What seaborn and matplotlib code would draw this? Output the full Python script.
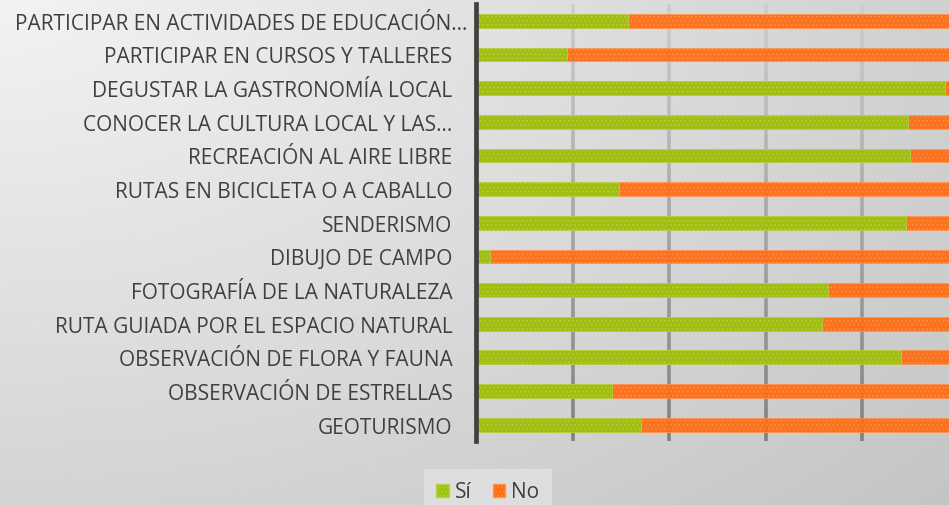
import numpy as np
import pandas as pd
import matplotlib
matplotlib.use("Agg")
import matplotlib.pyplot as plt
import matplotlib.transforms as mtransforms
from matplotlib.patches import Patch
import seaborn as sns

categories = [
    "PARTICIPAR EN ACTIVIDADES DE EDUCACIÓN…",
    "PARTICIPAR EN CURSOS Y TALLERES",
    "DEGUSTAR LA GASTRONOMÍA LOCAL",
    "CONOCER LA CULTURA LOCAL Y LAS…",
    "RECREACIÓN AL AIRE LIBRE",
    "RUTAS EN BICICLETA O A CABALLO",
    "SENDERISMO",
    "DIBUJO DE CAMPO",
    "FOTOGRAFÍA DE LA NATURALEZA",
    "RUTA GUIADA POR EL ESPACIO NATURAL",
    "OBSERVACIÓN DE FLORA Y FAUNA",
    "OBSERVACIÓN DE ESTRELLAS",
    "GEOTURISMO",
]
si_values = [31.4, 18.8, 97.3, 89.6, 89.9, 29.7, 89.1, 3.0, 72.9, 71.7, 88.0, 28.2, 34.1]
no_values = [68.6, 81.2, 2.7, 10.4, 10.1, 70.3, 10.9, 97.0, 27.1, 28.3, 12.0, 71.8, 65.9]
grid_ticks = [20, 40, 60, 80, 100]
series_labels = ["Sí", "No"]

GREEN = "#9cc412"
ORANGE = "#ff6c12"
GREEN_HATCH = "#b4d448"
ORANGE_HATCH = "#ff9450"

df = pd.DataFrame({"cat": categories, "si": si_values, "no": no_values})
df["total"] = df["si"] + df["no"]

sns.set_theme(style="white")
plt.rcParams["font.family"] = ["Open Sans", "DejaVu Sans"]
plt.rcParams["hatch.linewidth"] = 0.5

W, H = 949, 506
fig = plt.figure(figsize=(W / 100, H / 100), dpi=100)

# background gradient
bg = fig.add_axes([0, 0, 1, 1], zorder=-10)
yy, xx = np.mgrid[0:1:200j, 0:1:380j]
r = np.sqrt((xx * 1.0) ** 2 + (yy * 0.9) ** 2) / np.sqrt(1 + 0.81)
vals = 0.95 - 0.18 * r
bg.imshow(vals, cmap="gray", vmin=0, vmax=1, aspect="auto", extent=[0, 1, 1, 0])
bg.set_axis_off()

left_px, right_px = 476, 958.5
top_px, bot_px = 5, 442.5
ax = fig.add_axes([left_px / W, 1 - bot_px / H, (right_px - left_px) / W, (bot_px - top_px) / H])
ax.patch.set_alpha(0)

# gradient grid lines
nseg = 40
for t in grid_ticks:
    for i in range(nseg):
        y0 = -0.5 + 13 * i / nseg
        y1 = -0.5 + 13 * (i + 1) / nseg
        c = 0.80 - 0.30 * (i / nseg)
        ax.plot([t, t], [y0, y1], color=(c, c, c), lw=2.6, solid_capstyle="butt", zorder=0)

sns.barplot(data=df, x="total", y="cat", orient="h", color=ORANGE, saturation=1,
            width=0.41, ax=ax, edgecolor=ORANGE_HATCH, linewidth=0.6, hatch="....",
            alpha=0.93, zorder=2)
sns.barplot(data=df, x="si", y="cat", orient="h", color=GREEN, saturation=1,
            width=0.41, ax=ax, edgecolor=GREEN_HATCH, linewidth=0.6, hatch="....",
            alpha=0.93, zorder=3)

ax.set_xlim(0, 100)
ax.set_ylim(12.5, -0.5)
ax.set_xlabel("")
ax.set_ylabel("")
ax.set_xticks([])
for s in ["top", "right", "bottom"]:
    ax.spines[s].set_visible(False)
ax.spines["left"].set_color("#404040")
ax.spines["left"].set_linewidth(3.4)
ax.spines["left"].set_zorder(5)
ax.tick_params(axis="y", length=0, pad=17, labelsize=15, labelcolor="#404040")

# first label overflows toward the axis (as in the reference)
lbl = ax.get_yticklabels()[0]
lbl.set_transform(lbl.get_transform() + mtransforms.ScaledTranslation(15 / 100, 0, fig.dpi_scale_trans))

handles = [Patch(facecolor=GREEN, edgecolor=GREEN_HATCH, hatch="...."),
           Patch(facecolor=ORANGE, edgecolor=ORANGE_HATCH, hatch="....")]
leg = fig.legend(handles, series_labels, loc="center", bbox_to_anchor=(488 / W, 1 - 493 / H),
                 ncol=2, frameon=True, fontsize=15, handlelength=0.6, handleheight=0.6,
                 handletextpad=0.3, columnspacing=1.0, borderpad=0.6)
leg.get_frame().set_facecolor("#e2e2e2")
leg.get_frame().set_edgecolor("none")
leg.get_frame().set_alpha(0.8)
leg.get_frame().set_boxstyle("square", pad=0)
for t in leg.get_texts():
    t.set_color("#404040")

fig.savefig("out.png", dpi=100)
